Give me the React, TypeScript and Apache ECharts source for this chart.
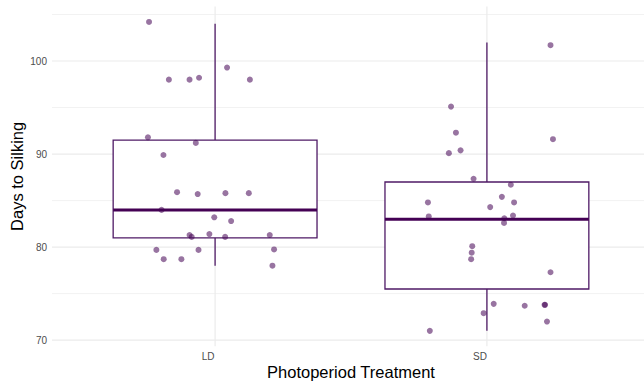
import React, { useEffect, useRef } from "react";
import * as echarts from "echarts";

const categories = ["LD", "SD"];
const yTicks = [70, 80, 90, 100];
const yMinorLines = [75, 85, 95, 105];

// box stats: [position, lowerWhisker, Q1, median, Q3, upperWhisker]
const boxStats = [
  [1, 78, 81, 84, 91.5, 104],
  [2, 71, 75.5, 83, 87, 102],
];

const ldDays = [104.2, 98.0, 98.0, 98.2, 99.3, 98.0, 91.8, 91.2, 89.9, 85.9, 85.7, 85.8, 85.8, 84.0, 83.2, 82.8, 81.3, 81.1, 81.4, 81.1, 81.3, 79.7, 79.7, 79.75, 78.7, 78.7, 78.0];
const ldJitterX = [0.757, 0.83, 0.906, 0.941, 1.044, 1.128, 0.753, 0.929, 0.81, 0.86, 0.936, 1.038, 1.124, 0.803, 0.997, 1.059, 0.906, 0.914, 0.979, 1.037, 1.201, 0.784, 0.939, 1.217, 0.811, 0.876, 1.211];

const sdDays = [101.7, 95.1, 92.3, 91.6, 90.1, 90.4, 87.35, 86.7, 85.4, 84.8, 84.8, 84.3, 83.3, 83.1, 83.4, 82.6, 80.1, 79.4, 78.7, 77.3, 73.9, 73.7, 73.8, 73.8, 72.9, 72.0, 71.0];
const sdJitterX = [2.234, 1.868, 1.886, 2.243, 1.86, 1.903, 1.951, 2.088, 2.055, 1.783, 2.1, 2.012, 1.786, 2.064, 2.096, 2.063, 1.946, 1.944, 1.942, 2.234, 2.025, 2.139, 2.212, 2.214, 1.988, 2.221, 1.79];

const FONT = "Liberation Sans, Arial, Helvetica, sans-serif";
const X_MIN = 0.4;
const X_MAX = 2.6;
const Y_MIN = 69.34;
const Y_MAX = 105.86;
const BOX_HALF = 0.375;

export default function App() {
  const ref = useRef<HTMLDivElement>(null);

  useEffect(() => {
    if (!ref.current) return;
    const chart = echarts.init(ref.current, null, { renderer: "svg" });

    const gridData: number[][] = [];
    yTicks.forEach((v) => gridData.push([0, v, 0]));
    yMinorLines.forEach((v) => gridData.push([0, v, 1]));
    categories.forEach((_, i) => gridData.push([1, i + 1, 0]));

    const points: number[][] = [];
    ldDays.forEach((d, i) => points.push([ldJitterX[i], d]));
    sdDays.forEach((d, i) => points.push([sdJitterX[i], d]));

    const option: any = {
      animation: false,
      backgroundColor: "#ffffff",
      grid: {
        left: 52,
        right: -6,
        top: 6.5,
        bottom: 36.7,
        containLabel: false,
        outerBoundsMode: "none",
      },
      xAxis: {
        type: "value",
        min: X_MIN,
        max: X_MAX,
        name: "Photoperiod Treatment",
        nameLocation: "middle",
        nameGap: 17,
        nameMoveOverlap: false,
        nameTextStyle: { fontSize: 16.5, color: "#000", fontFamily: FONT },
        axisLine: { show: false },
        axisTick: { show: false },
        splitLine: { show: false },
        axisLabel: {
          customValues: [1, 2],
          formatter: (v: number) => categories[Math.round(v) - 1] ?? "",
          fontSize: 10,
          color: "#4d4d4d",
          fontFamily: FONT,
          margin: 5,
          padding: [0, 14, 0, 0],
        },
      },
      yAxis: {
        type: "value",
        min: Y_MIN,
        max: Y_MAX,
        name: "Days to Silking",
        nameLocation: "middle",
        nameGap: 27,
        nameMoveOverlap: false,
        nameTextStyle: { fontSize: 16.5, color: "#000", fontFamily: FONT },
        axisLine: { show: false },
        axisTick: { show: false },
        splitLine: { show: false },
        axisLabel: {
          customValues: yTicks,
          formatter: (v: number) => String(v),
          fontSize: 10,
          color: "#4d4d4d",
          fontFamily: FONT,
          margin: 5,
        },
      },
      series: [
        {
          type: "custom",
          name: "grid",
          silent: true,
          z: 0,
          data: gridData,
          renderItem: (params: any, api: any) => {
            const orient = api.value(0);
            const v = api.value(1);
            const minor = api.value(2);
            let p1, p2;
            if (orient === 0) {
              p1 = api.coord([X_MIN, v]);
              p2 = api.coord([X_MAX, v]);
            } else {
              p1 = api.coord([v, Y_MIN]);
              p2 = api.coord([v, Y_MAX]);
            }
            return {
              type: "line",
              shape: { x1: p1[0], y1: p1[1], x2: p2[0], y2: p2[1] },
              style: { stroke: minor ? "#f2f2f2" : "#ebebeb", lineWidth: minor ? 1 : 1.2 },
            };
          },
        },
        {
          type: "custom",
          name: "box",
          silent: true,
          z: 2,
          data: boxStats,
          renderItem: (params: any, api: any) => {
            const x = api.value(0);
            const lo = api.value(1);
            const q1 = api.value(2);
            const med = api.value(3);
            const q3 = api.value(4);
            const hi = api.value(5);
            const tl = api.coord([x - BOX_HALF, q3]);
            const br = api.coord([x + BOX_HALF, q1]);
            const cHi = api.coord([x, hi]);
            const cQ3 = api.coord([x, q3]);
            const cQ1 = api.coord([x, q1]);
            const cLo = api.coord([x, lo]);
            const mL = api.coord([x - BOX_HALF, med]);
            const mR = api.coord([x + BOX_HALF, med]);
            const stroke = "#4f1a66";
            return {
              type: "group",
              children: [
                {
                  type: "line",
                  shape: { x1: cHi[0], y1: cHi[1], x2: cQ3[0], y2: cQ3[1] },
                  style: { stroke, lineWidth: 1.3 },
                },
                {
                  type: "line",
                  shape: { x1: cQ1[0], y1: cQ1[1], x2: cLo[0], y2: cLo[1] },
                  style: { stroke, lineWidth: 1.3 },
                },
                {
                  type: "rect",
                  shape: { x: tl[0], y: tl[1], width: br[0] - tl[0], height: br[1] - tl[1] },
                  style: { fill: "#ffffff", stroke, lineWidth: 1.3 },
                },
                {
                  type: "line",
                  shape: { x1: mL[0], y1: mL[1], x2: mR[0], y2: mR[1] },
                  style: { stroke: "#440154", lineWidth: 3 },
                },
              ],
            };
          },
        },
        {
          type: "scatter",
          name: "points",
          z: 3,
          symbol: "circle",
          symbolSize: 6,
          data: points,
          itemStyle: { color: "#440154", opacity: 0.55 },
        },
      ],
    };

    chart.setOption(option);
    return () => chart.dispose();
  }, []);

  return (
    <div
      ref={ref}
      style={{ position: "fixed", left: 0, top: 0, width: 644, height: 383, background: "#fff" }}
    />
  );
}
